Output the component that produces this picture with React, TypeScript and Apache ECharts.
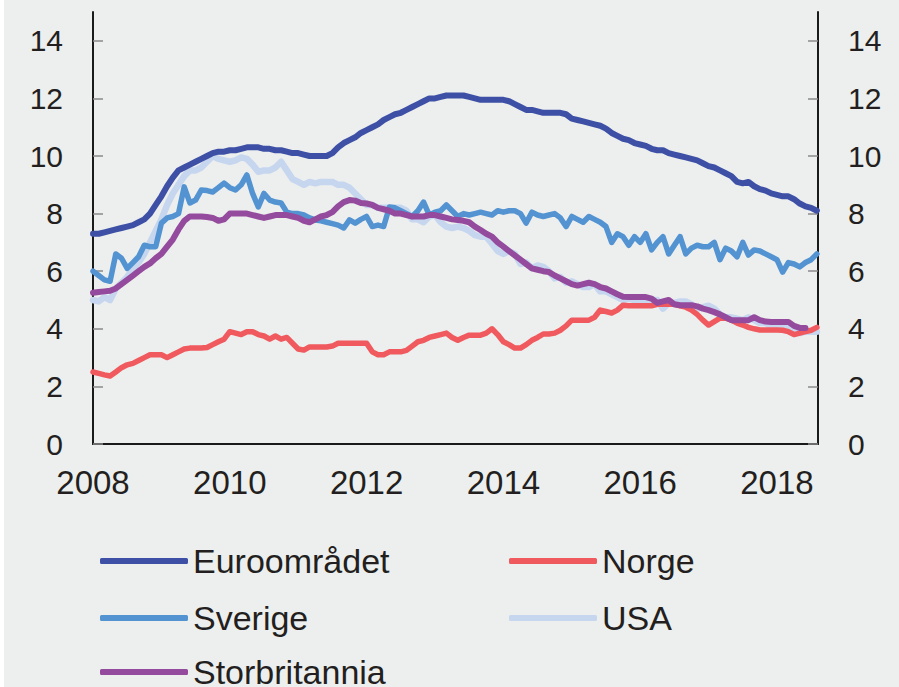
import { useEffect, useRef } from "react";
import * as echarts from "echarts";

// Monthly observations, January 2008 onwards
const startYear = 2008;

const euroomradet = [
  7.3, 7.3, 7.35, 7.4, 7.45, 7.5, 7.55, 7.6, 7.7, 7.8, 8.0, 8.3,
  8.6, 8.95, 9.25, 9.5, 9.6, 9.7, 9.8, 9.9, 10.0, 10.1, 10.15, 10.15,
  10.2, 10.2, 10.25, 10.3, 10.3, 10.3, 10.25, 10.25, 10.2, 10.2, 10.15, 10.1,
  10.1, 10.05, 10.0, 10.0, 10.0, 10.0, 10.1, 10.3, 10.45, 10.55, 10.65, 10.8,
  10.9, 11.0, 11.1, 11.25, 11.35, 11.45, 11.5, 11.6, 11.7, 11.8, 11.9, 12.0,
  12.0, 12.05, 12.1, 12.1, 12.1, 12.1, 12.05, 12.0, 11.95, 11.95, 11.95, 11.95,
  11.95, 11.9, 11.8, 11.7, 11.6, 11.6, 11.55, 11.5, 11.5, 11.5, 11.5, 11.45,
  11.3, 11.25, 11.2, 11.15, 11.1, 11.05, 10.95, 10.8, 10.7, 10.6, 10.55, 10.45,
  10.4, 10.35, 10.25, 10.2, 10.2, 10.1, 10.05, 10.0, 9.95, 9.9, 9.85, 9.75,
  9.65, 9.6, 9.5, 9.4, 9.3, 9.1, 9.05, 9.1, 8.95, 8.85, 8.8, 8.7,
  8.65, 8.6, 8.6, 8.5, 8.35, 8.25, 8.2, 8.1,
];

const norge = [
  2.5, 2.45, 2.4, 2.36, 2.5, 2.65, 2.75, 2.8, 2.9, 3.0, 3.1, 3.1,
  3.1, 3.0, 3.1, 3.2, 3.3, 3.33, 3.33, 3.33, 3.35, 3.45, 3.55, 3.64,
  3.9, 3.85, 3.8, 3.9, 3.9, 3.8, 3.75, 3.64, 3.75, 3.64, 3.7, 3.5,
  3.3, 3.26, 3.37, 3.37, 3.37, 3.37, 3.4, 3.5, 3.5, 3.5, 3.5, 3.5,
  3.5, 3.2, 3.1, 3.1, 3.2, 3.2, 3.2, 3.25, 3.4, 3.55, 3.6, 3.7,
  3.75, 3.8, 3.85, 3.7, 3.6, 3.7, 3.78, 3.78, 3.78, 3.85, 4.0, 3.8,
  3.55, 3.45, 3.33, 3.33, 3.45, 3.6, 3.7, 3.82, 3.82, 3.85, 3.95, 4.1,
  4.3, 4.3, 4.3, 4.3, 4.4, 4.65, 4.6, 4.55, 4.65, 4.82, 4.8, 4.8,
  4.8, 4.8, 4.8, 4.85, 4.85, 4.85, 4.85, 4.8, 4.75, 4.65, 4.5, 4.3,
  4.13, 4.25, 4.37, 4.37, 4.3, 4.2, 4.13, 4.05, 4.0, 3.96, 3.96, 3.96,
  3.96, 3.95, 3.9, 3.8, 3.85, 3.9, 3.95, 4.05,
];

const sverige = [
  6.0, 5.85, 5.7, 5.65, 6.6, 6.45, 6.1, 6.3, 6.5, 6.9, 6.85, 6.85,
  7.67, 7.85, 7.9, 8.0, 8.93, 8.37, 8.47, 8.82, 8.8, 8.75, 8.9, 9.06,
  8.9, 8.82, 9.0, 9.34, 8.7, 8.23, 8.7, 8.47, 8.4, 8.37, 8.05, 8.0,
  8.0, 7.95, 7.85, 7.78, 7.75, 7.7, 7.65, 7.6, 7.5, 7.78, 7.67, 7.8,
  7.9, 7.55, 7.6, 7.55, 8.23, 8.2, 8.1, 8.0, 7.9, 8.1, 8.4, 7.95,
  8.05, 8.1, 8.3, 8.1, 7.9, 8.0, 7.95, 8.0, 8.05, 8.0, 7.95, 8.1,
  8.05, 8.1, 8.1, 8.0, 7.67, 8.05, 7.95, 7.9, 7.95, 8.0, 7.85, 7.55,
  7.9, 7.8, 7.7, 7.9, 7.8, 7.7, 7.55, 7.0, 7.3, 7.2, 6.9, 7.2,
  7.0, 7.3, 6.74, 7.0, 7.2, 6.6, 6.9, 7.2, 6.6, 6.8, 6.9, 6.85,
  6.85, 7.0, 6.4, 6.8, 6.7, 6.5, 7.0, 6.56, 6.74, 6.7, 6.6, 6.5,
  6.4, 5.97, 6.3, 6.25, 6.15, 6.3, 6.4, 6.6,
];

const usa = [
  5.0, 4.95, 5.1, 5.0, 5.4, 5.6, 5.8, 6.1, 6.3, 6.6, 7.0, 7.4,
  7.8, 8.3, 8.7, 9.0, 9.3, 9.5, 9.5, 9.6, 9.8, 10.0, 9.9, 9.85,
  9.8, 9.85, 9.95, 9.9, 9.7, 9.45, 9.5, 9.5, 9.6, 9.8, 9.5, 9.2,
  9.1, 9.0, 9.1, 9.05, 9.1, 9.1, 9.1, 9.0, 9.0, 8.9, 8.7, 8.5,
  8.3, 8.3, 8.2, 8.2, 8.2, 8.2, 8.2, 8.1, 7.8, 7.8, 7.7, 7.9,
  7.95, 7.7, 7.55, 7.5, 7.55, 7.5, 7.4, 7.25, 7.2, 7.2, 6.95, 6.7,
  6.6, 6.7, 6.6, 6.25, 6.3, 6.1, 6.2, 6.15, 6.0, 5.75, 5.8, 5.6,
  5.65, 5.55, 5.45, 5.45, 5.55, 5.3, 5.3, 5.2, 5.1, 5.0, 5.05, 5.0,
  4.95, 4.9, 5.0, 5.0, 4.7, 4.9, 4.9, 4.95, 4.95, 4.85, 4.7, 4.75,
  4.8, 4.7, 4.5, 4.4, 4.4, 4.35, 4.3, 4.4, 4.3, 4.2, 4.2, 4.1,
  4.1, 4.1, 4.1, 3.9, 3.85, 3.9, 3.9, 3.9,
];

const storbritannia = [
  5.25, 5.28, 5.3, 5.32, 5.4, 5.55, 5.7, 5.85, 6.0, 6.15, 6.27, 6.45,
  6.6, 6.85, 7.1, 7.45, 7.75, 7.9, 7.9, 7.9, 7.88, 7.85, 7.75, 7.8,
  8.0, 8.0, 8.0, 8.0, 7.95, 7.9, 7.85, 7.9, 7.95, 7.95, 7.95, 7.9,
  7.85, 7.75, 7.7, 7.8, 7.9, 7.95, 8.05, 8.25, 8.4, 8.47, 8.45, 8.37,
  8.35, 8.3, 8.2, 8.15, 8.1, 8.0, 8.0, 7.95, 7.9, 7.9, 7.9, 7.95,
  7.95, 7.9, 7.85, 7.8, 7.78, 7.75, 7.7, 7.55, 7.43, 7.3, 7.2, 7.0,
  6.85, 6.7, 6.55, 6.4, 6.25, 6.1, 6.05, 6.0, 5.97, 5.85, 5.75, 5.65,
  5.55, 5.5, 5.55, 5.6, 5.55, 5.45, 5.4, 5.3, 5.2, 5.11, 5.1, 5.1,
  5.1, 5.1, 5.05, 4.9, 4.95, 5.0, 4.85, 4.82, 4.82, 4.82, 4.78, 4.7,
  4.65, 4.58, 4.5, 4.4, 4.3, 4.3, 4.3, 4.3, 4.4, 4.3, 4.25, 4.24,
  4.24, 4.24, 4.24, 4.1, 4.03, 4.03,
];

const yTickValues = [0, 2, 4, 6, 8, 10, 12, 14];
const xTickValues = [2008, 2010, 2012, 2014, 2016, 2018];

const FONT = "'Liberation Sans', Arial, Helvetica, sans-serif";

const toPairs = (vals: number[]) => vals.map((v, i) => [startYear + i / 12, v]);

export default function App() {
  const ref = useRef<HTMLDivElement>(null);
  useEffect(() => {
    const chart = echarts.init(ref.current!, null, { renderer: "svg" });
    const yAxisBase = (pos: "left" | "right") => ({
      type: "value",
      position: pos,
      min: 0,
      max: 15,
      axisLine: { show: true, onZero: false, lineStyle: { color: "#1a1a1a", width: 2 } },
      axisTick: {
        show: true,
        inside: true,
        length: 10,
        customValues: yTickValues,
        lineStyle: { color: "#8a8a8a", width: 1.5 },
      },
      axisLabel: {
        customValues: yTickValues,
        margin: 30,
        fontSize: 30,
        color: "#231f20",
        fontFamily: FONT,
      },
      splitLine: { show: false },
    });
    const line = (name: string, data: number[], color: string, width: number, z: number) => ({
      name,
      type: "line",
      data: toPairs(data),
      showSymbol: false,
      symbol: "none",
      lineStyle: { color, width, join: "round", cap: "round" },
      itemStyle: { color },
      z,
    });
    const legendItem = (name: string, left: number, top: number) => ({
      data: [name],
      left,
      top,
      padding: 0,
      itemWidth: 88,
      itemHeight: 6,
      icon: "roundRect",
      textStyle: { fontSize: 34, color: "#231f20", fontFamily: FONT, lineHeight: 36 },
    });
    chart.setOption({
      animation: false,
      backgroundColor: "#edefee",
      grid: { left: 93, right: 81, top: 12, bottom: 243 },
      xAxis: {
        type: "value",
        min: 2008,
        max: 2018.6,
        axisLine: { show: true, lineStyle: { color: "#1a1a1a", width: 2 } },
        axisTick: { show: false },
        axisLabel: {
          customValues: xTickValues,
          margin: 22,
          fontSize: 33,
          color: "#231f20",
          fontFamily: FONT,
          formatter: (v: number) => String(v),
        },
        splitLine: { show: false },
      },
      yAxis: [yAxisBase("left"), yAxisBase("right")],
      legend: [
        legendItem("Euroområdet", 100, 543),
        legendItem("Norge", 509, 543),
        legendItem("Sverige", 100, 600),
        legendItem("USA", 509, 600),
        legendItem("Storbritannia", 100, 654),
      ],
      graphic: [
        { type: "rect", left: 0, top: 0, shape: { width: 4, height: 687 }, style: { fill: "#ffffff" } },
      ],
      series: [
        line("USA", usa, "#c6d6ef", 6.5, 1),
        line("Norge", norge, "#f05a5e", 5.5, 2),
        line("Sverige", sverige, "#5393d1", 5.5, 3),
        line("Storbritannia", storbritannia, "#944a9d", 6, 4),
        line("Euroområdet", euroomradet, "#3d50a6", 6, 5),
      ],
    });
    return () => chart.dispose();
  }, []);
  return (
    <div
      ref={ref}
      style={{ position: "absolute", left: 0, top: 0, width: 899, height: 687 }}
    />
  );
}
